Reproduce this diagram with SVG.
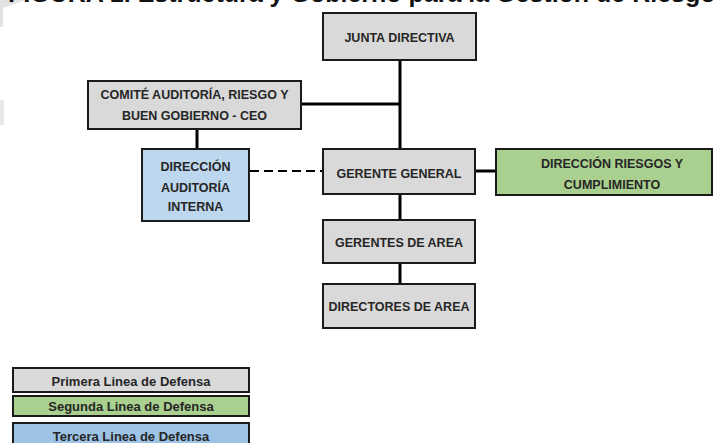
<svg xmlns="http://www.w3.org/2000/svg" width="713" height="443" viewBox="0 0 713 443">
<style>
.box{stroke:#1a1a1a;stroke-width:2}
.g{fill:#d9d9d9}.gr{fill:#a9d08e}.bl{fill:#bdd7ee}.bl2{fill:#9dc3e6}
.t{font-family:"Liberation Sans",Arial,sans-serif;font-weight:bold;font-size:12.5px;fill:#262626;text-anchor:middle}
.lg{font-family:"Liberation Sans",Arial,sans-serif;font-weight:bold;font-size:13px;fill:#262626;text-anchor:middle}
.c{stroke:#000;stroke-width:3;fill:none}
.d{stroke:#000;stroke-width:2.2;fill:none;stroke-dasharray:9 5}
</style>
<rect width="713" height="443" fill="#fff"/>
<polygon points="0,0 25,0 3,8 3,27 0,27" fill="#e3e3e3"/>
<rect x="0" y="100" width="4" height="25" fill="#e8e8e8"/>
<text x="8" y="2" font-family="Liberation Sans,Arial,sans-serif" font-weight="bold" font-size="25" fill="#111">FIGURA 1. Estructura y Gobierno para la Gestión de Riesgos</text>
<g id="connectors">
<line class="c" x1="400" y1="60" x2="400" y2="150"/>
<line class="c" x1="301" y1="104" x2="400" y2="104"/>
<line class="c" x1="197" y1="129" x2="197" y2="150"/>
<line class="d" x1="250" y1="171" x2="322" y2="171"/>
<line class="c" x1="475" y1="171" x2="497" y2="171"/>
<line class="c" x1="400" y1="194" x2="400" y2="221"/>
<line class="c" x1="400" y1="263" x2="400" y2="285"/>
</g>
<g id="junta"><rect class="box g" x="323" y="13" width="153" height="47"/><text class="t" x="399.5" y="42">JUNTA DIRECTIVA</text></g>
<g id="comite"><rect class="box g" x="88" y="81" width="213" height="48"/><text class="t" x="194.5" y="99">COMITÉ AUDITORÍA, RIESGO Y</text><text class="t" x="194.5" y="120">BUEN GOBIERNO - CEO</text></g>
<g id="auditoria"><rect class="box bl" x="142" y="149" width="107" height="72"/><text class="t" x="195.5" y="170.5">DIRECCIÓN</text><text class="t" x="195.5" y="191.5">AUDITORÍA</text><text class="t" x="195.5" y="211">INTERNA</text></g>
<g id="gerente"><rect class="box g" x="323" y="149" width="152" height="45"/><text class="t" x="399" y="177.5">GERENTE GENERAL</text></g>
<g id="riesgos"><rect class="box gr" x="496" y="149" width="216" height="46"/><text class="t" x="612" y="167.5">DIRECCIÓN RIESGOS Y</text><text class="t" x="612" y="188.5">CUMPLIMIENTO</text></g>
<g id="gerentes-area"><rect class="box g" x="323" y="220" width="152" height="43"/><text class="t" x="399" y="247">GERENTES DE AREA</text></g>
<g id="directores-area"><rect class="box g" x="323" y="284" width="152" height="44"/><text class="t" x="399" y="310.5">DIRECTORES DE AREA</text></g>
<g id="legend">
<rect class="box g" x="13" y="368" width="236" height="24"/><text class="lg" x="131" y="386">Primera Linea de Defensa</text>
<rect class="box gr" x="13" y="396" width="236" height="20"/><text class="lg" x="131" y="410.5">Segunda Linea de Defensa</text>
<rect class="box bl2" x="13" y="423" width="236" height="24"/><text class="lg" x="131" y="441">Tercera Linea de Defensa</text>
</g>
</svg>
